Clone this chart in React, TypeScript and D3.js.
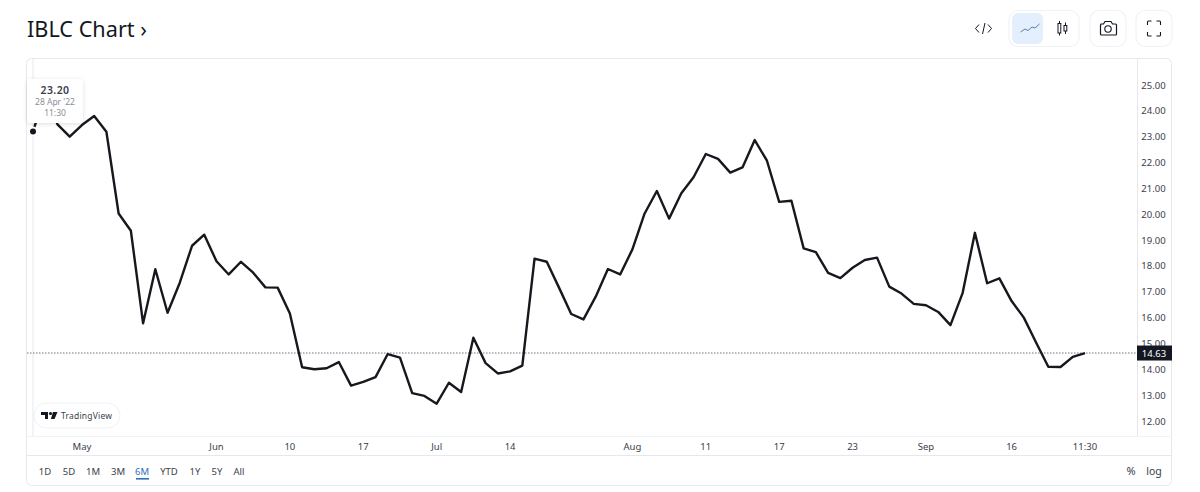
import React from "react";
import * as d3 from "d3";

const prices = [
  23.2, 24.7, 23.48, 23.0, 23.45, 23.8, 23.19, 20.03, 19.36, 15.78,
  17.87, 16.19, 17.35, 18.78, 19.21, 18.18, 17.67, 18.16, 17.74, 17.17,
  17.16, 16.16, 14.08, 14.0, 14.04, 14.28, 13.37, 13.51, 13.7, 14.59,
  14.45, 13.08, 12.97, 12.67, 13.48, 13.12, 15.22, 14.24, 13.84, 13.92,
  14.14, 18.28, 18.16, 17.16, 16.14, 15.93, 16.81, 17.88, 17.67, 18.64,
  20.03, 20.9, 19.83, 20.81, 21.43, 22.33, 22.14, 21.61, 21.81, 22.87,
  22.07, 20.48, 20.52, 18.68, 18.53, 17.73, 17.53, 17.93, 18.23, 18.32,
  17.2, 16.93, 16.53, 16.48, 16.22, 15.71, 16.96, 19.28, 17.33, 17.52,
  16.64, 16.0, 15.04, 14.1, 14.09, 14.48, 14.63,
];
const priceTicks = [12, 13, 14, 15, 16, 17, 18, 19, 20, 21, 22, 23, 24, 25];
const timeTickIndex = [4, 15, 21, 27, 33, 39, 49, 55, 61, 67, 73, 80, 86];
const timeTickLabels = ["May", "Jun", "10", "17", "Jul", "14", "Aug", "11", "17", "23", "Sep", "16", "11:30"];
const rangeLabels = ["1D", "5D", "1M", "3M", "6M", "YTD", "1Y", "5Y", "All"];
const rangeX = [45, 69, 93, 118, 142, 169, 195, 217, 239];
const activeRange = "6M";
const lastPrice = 14.63;

const FONT = "'Noto Sans', 'Open Sans', sans-serif";
const INK = "#131722";
const TEXT = "#3a3e4a";
const BORDER = "#e6e8ee";

const x = d3.scaleLinear().domain([0, prices.length - 1]).range([33, 1085]);
const y = d3.scaleLinear().domain([12, 25]).range([421, 85]);
const linePath = d3.line<number>().x((_, i) => x(i)).y((d) => y(d))(prices) as string;

export default function App() {
  const lastY = y(lastPrice);
  return (
    <svg
      width={1200}
      height={492}
      viewBox="0 0 1200 492"
      style={{ position: "absolute", left: 0, top: 0, background: "#fff", fontFamily: FONT }}
    >
      <defs>
        <filter id="soft" x="-30%" y="-30%" width="160%" height="160%">
          <feDropShadow dx="0" dy="1" stdDeviation="2" floodColor="#000" floodOpacity="0.13" />
        </filter>
      </defs>

      <text x={27} y={37} fontSize={22.5} fill={INK} textLength={120} lengthAdjust="spacingAndGlyphs">IBLC Chart ›</text>

      {/* toolbar */}
      <g fill="none" stroke="#f0f2f6" strokeWidth={1.2}>
        <rect x={1009} y={10.5} width={70} height={36} rx={9} />
        <rect x={1090} y={10.5} width={36} height={36} rx={9} />
        <rect x={1136} y={10.5} width={36} height={36} rx={9} />
      </g>
      <rect x={1012} y={13} width={31} height={31} rx={6} fill="#e3effd" />
      <g fill="none" stroke={INK} strokeWidth={1}>
        <path d="M979 24.5 l-3.5 4 3.5 4 M988 24.5 l3.5 4 -3.5 4 M985 23 l-2.5 11" />
        <path d="M1020.5 32 l4.5 -3 3 1.5 4 -3.5 3 1 4.5 -4" stroke="#5b7fb0" />
        <rect x="1058" y="23.5" width="2.8" height="9.5" />
        <path d="M1059.5 21 v2.5 M1059.5 33 v2.5 M1065.5 22.5 v3 M1065.5 31 v3" />
        <rect x="1064" y="25.5" width="2.8" height="5.5" />
        <path d="M1100.5 24.5 h3 l1.5 -2.5 h6 l1.5 2.5 h3 a1 1 0 0 1 1 1 v9 a1 1 0 0 1 -1 1 h-14 a1 1 0 0 1 -1 -1 v-9 a1 1 0 0 1 1 -1 z" strokeWidth={1.2} transform="translate(0 -0.5)" />
        <circle cx={1108} cy={29} r={3.2} strokeWidth={1.1} />
        <path d="M1147.5 25 v-3 a1 1 0 0 1 1 -1 h3 M1156.5 21 h3 a1 1 0 0 1 1 1 v3 M1160.5 32 v3 a1 1 0 0 1 -1 1 h-3 M1151.5 36 h-3 a1 1 0 0 1 -1 -1 v-3" strokeWidth={1.1} />
      </g>

      {/* frame */}
      <rect x={26.5} y={58.5} width={1145} height={427} rx={5} fill="#fff" stroke={BORDER} />
      <line x1={1137.5} x2={1137.5} y1={59} y2={436} stroke={BORDER} />
      <line x1={33} x2={33} y1={59} y2={436} stroke="#eef0f3" strokeWidth={1.5} />
      <line x1={27} x2={1172} y1={436.5} y2={436.5} stroke="#f2f3f6" />
      <line x1={27} x2={1172} y1={455.5} y2={455.5} stroke={BORDER} />

      {/* last price line */}
      <line x1={27} x2={1137} y1={lastY} y2={lastY} stroke="#6f737c" strokeWidth={1} strokeDasharray="1.5 1.5" />

      {/* series */}
      <path d={linePath} fill="none" stroke="#16181d" strokeWidth={2.4} strokeLinejoin="round" />
      <circle cx={x(0)} cy={y(prices[0])} r={5} fill="#fff" />
      <circle cx={x(0)} cy={y(prices[0])} r={3} fill={INK} />

      {/* price axis */}
      {priceTicks.map((t) => (
        <text key={t} x={1153.5} y={y(t) + 3.5} fontSize={9.5} textAnchor="middle" fill={TEXT}>{t.toFixed(2)}</text>
      ))}
      <rect x={1137} y={lastY - 7.5} width={35} height={15} fill={INK} />
      <text x={1154} y={lastY + 3.5} fontSize={9.5} textAnchor="middle" fill="#fff">{lastPrice.toFixed(2)}</text>

      {/* time axis */}
      {timeTickIndex.map((idx, i) => (
        <text key={idx} x={x(idx)} y={450} fontSize={9.5} textAnchor="middle" fill={TEXT}>{timeTickLabels[i]}</text>
      ))}

      {/* tooltip */}
      <rect x={27} y={79} width={56} height={44} rx={3} fill="#fff" filter="url(#soft)" />
      <text x={55} y={94} fontSize={10.5} fontWeight={600} textAnchor="middle" fill="#3a3e4a" letterSpacing={0.4}>23.20</text>
      <text x={55} y={105} fontSize={8.5} textAnchor="middle" fill="#8a8e97">28 Apr '22</text>
      <text x={55} y={116} fontSize={8.5} textAnchor="middle" fill="#8a8e97">11:30</text>

      {/* logo badge */}
      <rect x={34} y={403} width={86} height={25} rx={12.5} fill="#fff" stroke="#f0f2f6" />
      <g fill={INK}>
        <path d="M41 412 h7 v7 h-3 v-4 h-4 z" />
        <circle cx={50.5} cy={413.5} r={1.6} />
        <path d="M53 412 h4.5 l-3 7 h-3.6 z" />
      </g>
      <text x={61} y={418.5} fontSize={8.5} fill="#3a3e4a" letterSpacing={0.2}>TradingView</text>

      {/* range tabs */}
      {rangeLabels.map((label, i) => (
        <text key={label} x={rangeX[i]} y={474.5} fontSize={9.5} textAnchor="middle" fill={label === activeRange ? "#2f6fc0" : TEXT}>{label}</text>
      ))}
      <rect x={136} y={478} width={13} height={1.6} fill="#2f6fc0" />
      <text x={1131} y={475} fontSize={11} textAnchor="middle" fill={TEXT}>%</text>
      <text x={1154} y={475} fontSize={10.5} textAnchor="middle" fill={TEXT}>log</text>
    </svg>
  );
}
